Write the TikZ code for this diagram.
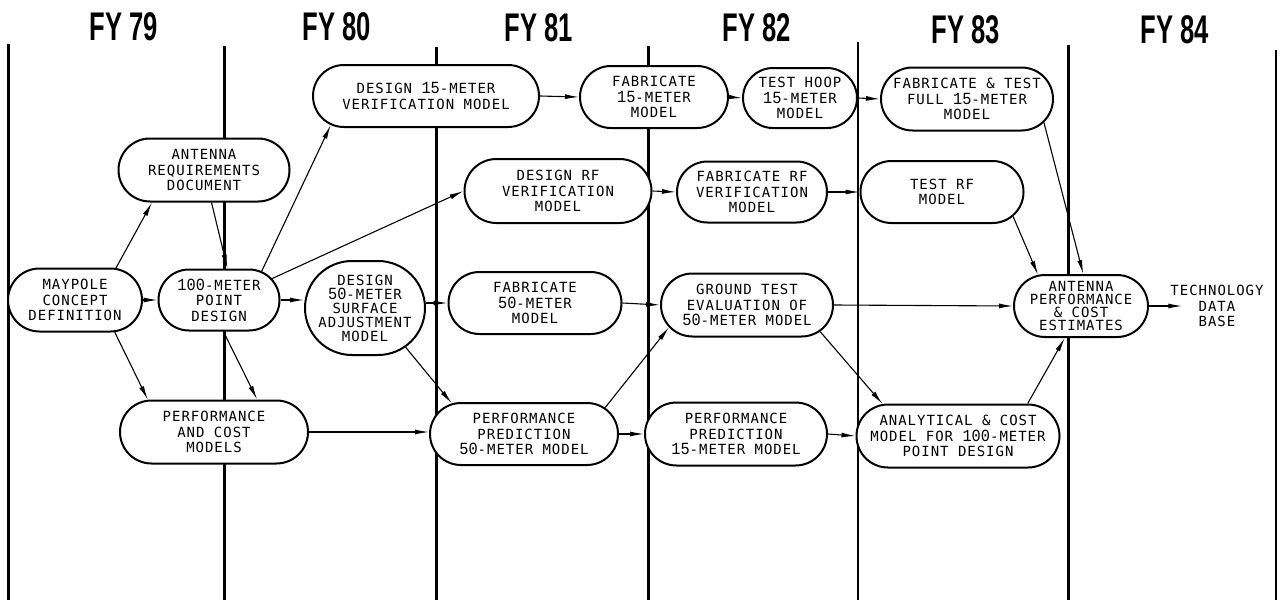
\documentclass[tikz,border=0pt]{standalone}
\usepackage{fontspec}
\usetikzlibrary{arrows.meta,shapes.misc}

% lettering for the boxes, the larger figures, and the year headings
\newfontfamily\lettering[LetterSpace=7]{DejaVu Sans Mono}
\newfontfamily\numfont[FakeStretch=0.9]{Liberation Mono}
\newfontfamily\headfont[FakeStretch=0.64]{Liberation Sans}
\newcommand{\bignum}[1]{{\numfont\fontsize{17pt}{15.5pt}\selectfont #1}}

\tikzset{
  pill/.style 2 args={rounded rectangle, draw, line width=2pt, fill=white,
    inner sep=0pt, minimum width=#1pt, minimum height=#2pt},
  pilltext/.style={align=center, inner sep=0pt,
    font=\lettering\fontsize{14pt}{15.5pt}\selectfont},
  tighttext/.style={align=center, inner sep=0pt,
    font=\lettering\fontsize{14pt}{13pt}\selectfont},
  midtext/.style={align=center, inner sep=0pt,
    font=\lettering\fontsize{14pt}{14pt}\selectfont},
  yearlabel/.style={inner sep=0pt, font=\headfont\bfseries\fontsize{40pt}{44pt}\selectfont},
  divider/.style={line width=3pt},
  flow/.style={-{Latex[length=14pt,width=5pt]}, line width=1.1pt},
}

\begin{document}
\lineskiplimit=-50pt
\begin{tikzpicture}[x=1pt, y=-1pt]
\useasboundingbox (0,0) rectangle (1279,605);

% fiscal-year column dividers
\draw[divider] (8,44) -- (8,600);
\draw[divider] (224,46) -- (224,600);
\draw[divider] (436,47) -- (436,600);
\draw[divider] (648,46) -- (648,600);
\draw[divider, line width=2.6pt] (858,42) -- (858,600);
\draw[divider] (1068,45) -- (1068,600);
\draw[divider, line width=2.4pt] (1276,50) -- (1276,600);

% year headings
\node[yearlabel] (h79) at (124,27) {FY 79};
\node[yearlabel] (h80) at (337,27) {FY 80};
\node[yearlabel] (h81) at (539,28) {FY 81};
\node[yearlabel] (h82) at (757,28) {FY 82};
\node[yearlabel] (h83) at (966,30) {FY 83};
\node[yearlabel] (h84) at (1175,30) {FY 84};

% activity boxes
\node[pill={134}{63}, label={[pilltext]center:{MAYPOLE\\CONCEPT\\DEFINITION}}] (maypole) at (75,300) {};
\node[pill={171}{63}, label={[pilltext]center:{ANTENNA\\REQUIREMENTS\\DOCUMENT}}] (antreq) at (204,170) {};
\node[pill={121}{61}, label={[pilltext]center:{\bignum{100}-METER\\POINT\\DESIGN}}] (pd100) at (219,300) {};
\node[pill={188}{63}, label={[pilltext]center:{PERFORMANCE\\AND COST\\MODELS}}] (pcm) at (214,432) {};

\node[pill={226}{62}, label={[pilltext]center:{DESIGN \bignum{15}-METER\\VERIFICATION MODEL}}] (d15) at (426,96) {};
\node[pill={120}{94}, label={[midtext]center:{DESIGN\\\bignum{50}-METER\\SURFACE\\ADJUSTMENT\\MODEL}}] (d50) at (365,308) {};

\node[pill={187}{64}, label={[pilltext]center:{DESIGN RF\\VERIFICATION\\MODEL}}] (drf) at (558,191) {};
\node[pill={173}{62}, label={[pilltext]center:{FABRICATE\\\bignum{50}-METER\\MODEL}}] (f50) at (535,303) {};
\node[pill={188}{62}, label={[pilltext]center:{PERFORMANCE\\PREDICTION\\\bignum{50}-METER MODEL}}] (pp50) at (524,434) {};

\node[pill={148}{62}, label={[pilltext]center:{FABRICATE\\\bignum{15}-METER\\MODEL}}] (f15) at (654,97) {};
\node[pill={114}{60}, label={[pilltext]center:{TEST HOOP\\\bignum{15}-METER\\MODEL}}] (th15) at (800,98) {};
\node[pill={150}{61}, label={[pilltext]center:{FABRICATE RF\\VERIFICATION\\MODEL}}] (frf) at (752,192) {};
\node[pill={172}{63}, label={[pilltext]center:{GROUND TEST\\EVALUATION OF\\\bignum{50}-METER MODEL}}] (gt) at (747,305) {};
\node[pill={182}{63}, label={[pilltext]center:{PERFORMANCE\\PREDICTION\\\bignum{15}-METER MODEL}}] (pp15) at (736,434) {};

\node[pill={172}{63}, label={[pilltext]center:{FABRICATE \& TEST\\FULL \bignum{15}-METER\\MODEL}}] (ft15) at (967,99) {};
\node[pill={163}{62}, label={[pilltext]center:{TEST RF\\MODEL}}] (trf) at (942,192) {};
\node[pill={203}{63}, label={[pilltext]center:{ANALYTICAL \& COST\\MODEL FOR \bignum{100}-METER\\POINT DESIGN}}] (an100) at (958,436) {};

\node[pill={134}{62}, label={[tighttext]center:{ANTENNA\\PERFORMANCE\\\& COST\\ESTIMATES}}] (ape) at (1081,306) {};
\node[pilltext] (tdb) at (1217,306) {TECHNOLOGY\\DATA\\BASE};

% flow of work
\draw[flow] (maypole.38) -- (antreq.212);
\draw[flow] (maypole.east) -- (pd100.west);
\draw[flow] (maypole.-39) -- (pcm.154);
\draw[flow] (antreq.-77) -- (pd100.75);
\draw[flow] (pd100.34) -- (d15.197);
\draw[flow] (pd100.22) -- (drf.west);
\draw[flow] (pd100.east) -- (pd100.east -| d50.west);
\draw[flow] (pd100.-82) -- (pcm.37);
\draw[flow] (pcm.east) -- (pcm.east -| pp50.west);

\draw[flow] (d15.east) -- (f15.west);
\draw[flow] (f15.east) -- (th15.west);
\draw[flow] (th15.east) -- (ft15.west);
\draw[flow] (drf.east) -- (frf.west);
\draw[flow] (frf.east) -- (trf.west);

\draw[flow] (d50.east |- f50.west) -- (f50.west);
\draw[flow] (d50.-44) -- (pp50.157);
\draw[flow] (f50.east) -- (gt.west);
\draw[flow] (pp50.18) -- (gt.196);
\draw[flow] (pp50.east) -- (pp15.west);
\draw[flow] (pp15.east) -- (an100.west);
\draw[flow] (gt.east) -- (ape.west);
\draw[flow] (gt.-20) -- (an100.157);

\draw[flow] (ft15.-17) -- (ape.86);
\draw[flow] (trf.-19) -- (ape.144);
\draw[flow] (an100.25) -- (ape.-117);
\draw[flow] (ape.east) -- ([xshift=12pt]tdb.west);
\end{tikzpicture}
\end{document}
